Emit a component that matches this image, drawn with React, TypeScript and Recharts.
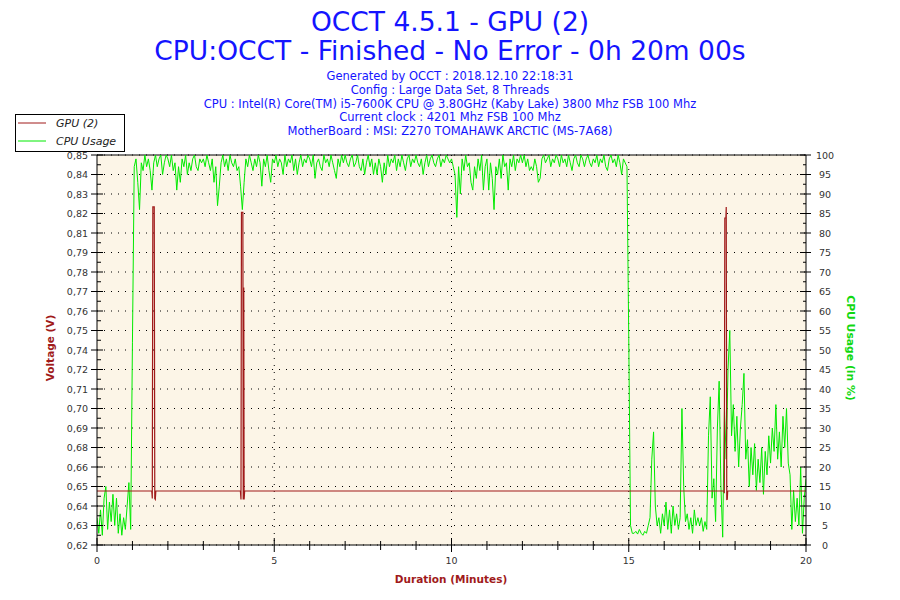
import { CartesianGrid, Line, LineChart, ReferenceLine, XAxis, YAxis } from "recharts";

// CPU usage (%), one sample every 0.05 min, one row per minute
const SAMPLE_STEP_MIN = 0.05;
const CPU_USAGE = [
  7, 3, 9, 2.5, 12, 15, 4, 11, 6, 13, 5, 12, 3, 8, 2.5, 7, 4, 10, 16, 4,
  52, 97, 99, 93, 86, 98, 96, 100, 97, 99, 96, 91, 98, 100, 97, 99, 100, 95, 98, 100,
  99, 97, 100, 96, 98, 91, 97, 93, 99, 97, 100, 95, 98, 96, 99, 100, 97, 96, 99, 98,
  99, 97, 100, 98, 96, 99, 93, 97, 87, 92, 98, 100, 97, 99, 96, 100, 98, 97, 99, 96,
  97, 92, 86, 93, 99, 97, 100, 98, 96, 99, 97, 100, 98, 92, 99, 97, 100, 96, 93, 99,
  98, 100, 97, 99, 98, 95, 100, 97, 99, 98, 100, 96, 99, 95, 98, 100, 97, 99, 98, 100,
  99, 97, 100, 94, 98, 99, 97, 96, 100, 98, 99, 97, 100, 98, 96, 94, 99, 97, 100, 98,
  100, 98, 97, 99, 100, 97, 98, 100, 97, 96, 99, 95, 98, 100, 97, 99, 95, 98, 95, 99,
  97, 93, 98, 95, 100, 97, 99, 98, 100, 96, 99, 97, 100, 98, 96, 99, 100, 97, 99, 98,
  100, 98, 97, 99, 95, 98, 100, 97, 99, 100, 98, 97, 99, 100, 97, 99, 98, 100, 99, 98,
  99, 97, 95, 84, 97, 90, 99, 96, 100, 97, 98, 93, 91, 97, 94, 99, 96, 100, 91, 97,
  99, 91, 98, 94, 86, 97, 95, 99, 94, 100, 97, 98, 91, 99, 97, 100, 96, 99, 98, 100,
  98, 100, 97, 99, 96, 97, 96, 99, 97, 93, 94, 99, 100, 98, 99, 100, 97, 99, 98, 100,
  99, 97, 100, 98, 99, 97, 100, 98, 96, 99, 100, 98, 97, 100, 99, 97, 99, 100, 98, 97,
  99, 98, 100, 97, 99, 98, 100, 97, 96, 99, 100, 98, 99, 97, 100, 98, 95, 99, 98, 97,
  53, 5, 3, 3, 3.5, 2.8, 4, 3, 2.5, 3.5, 3, 5, 7, 22, 29, 10, 5, 7, 3, 8,
  5, 11, 4, 9, 3, 10, 5, 8, 4, 7, 35, 15, 6, 8, 4, 7, 3, 9, 5, 7,
  5, 7, 3.5, 6, 4, 28, 38, 12, 17, 6, 30, 42, 15, 2, 35, 22, 45, 55, 28, 36,
  24, 33, 20, 30, 36, 44, 22, 27, 15, 25, 18, 26, 14, 22, 16, 25, 13, 24, 18, 28,
  21, 30, 24, 36, 22, 29, 20, 33, 25, 35, 21, 18, 4, 14, 6, 12, 5, 20, 3, 12,
  17,
];

// GPU voltage (V): flat line with three short spikes
const VOLT_TIMES = [
  0, 1.545, 1.56, 1.575, 1.615, 1.63, 1.645, 1.66,
  4.045, 4.062, 4.075, 4.115, 4.125, 4.14, 4.15, 4.165,
  17.685, 17.695, 17.71, 17.74, 17.75, 17.765, 17.78, 17.79, 20,
];
const VOLT_VALUES = [
  0.6486, 0.6486, 0.644, 0.8227, 0.8227, 0.644, 0.6435, 0.6486,
  0.6486, 0.6434, 0.8193, 0.8193, 0.6434, 0.7733, 0.6434, 0.6486,
  0.6486, 0.6472, 0.8159, 0.8159, 0.8226, 0.6434, 0.6435, 0.6486, 0.6486,
];

// left axis: 20 even steps, labels as printed
const VOLT_MIN = 0.6155;
const VOLT_STEP = 0.01195;
const VOLT_LABELS = [
  "0,62", "0,63", "0,64", "0,65", "0,66", "0,68", "0,69", "0,70", "0,71", "0,72",
  "0,74", "0,75", "0,76", "0,77", "0,78", "0,79", "0,81", "0,82", "0,83", "0,84", "0,85",
];
const CPU_LABELS = [
  "0", "5", "10", "15", "20", "25", "30", "35", "40", "45", "50",
  "55", "60", "65", "70", "75", "80", "85", "90", "95", "100",
];
const MINUTE_TICKS = [0, 1, 2, 3, 4, 5, 6, 7, 8, 9, 10, 11, 12, 13, 14, 15, 16, 17, 18, 19, 20];
const MINUTE_GRID = [5, 10, 15];

const SUBTITLE_LINES = [
  "Generated by OCCT : 2018.12.10 22:18:31",
  "Config : Large Data Set, 8 Threads",
  "CPU : Intel(R) Core(TM) i5-7600K CPU @ 3.80GHz (Kaby Lake) 3800 Mhz FSB 100 Mhz",
  "Current clock : 4201 Mhz FSB 100 Mhz",
  "MotherBoard : MSI: Z270 TOMAHAWK ARCTIC (MS-7A68)",
];

const RED = "#a01a1a";
const GREEN = "#00ea00";
const TITLE_BLUE = "#1414ff";
const FONT = "'DejaVu Sans', Verdana, sans-serif";

const cpuData = CPU_USAGE.map((v, i) => ({ t: +(i * SAMPLE_STEP_MIN).toFixed(2), cpu: v }));
const voltData = VOLT_TIMES.map((t, i) => ({ t, volt: VOLT_VALUES[i] }));

const voltTicks: number[] = [];
VOLT_LABELS.forEach((_, i) => {
  voltTicks.push(VOLT_MIN + i * VOLT_STEP);
  if (i < VOLT_LABELS.length - 1) voltTicks.push(VOLT_MIN + (i + 0.5) * VOLT_STEP);
});
const voltMax = VOLT_MIN + (VOLT_LABELS.length - 1) * VOLT_STEP;

const cpuTicks: number[] = [];
for (let i = 0; i <= 40; i++) cpuTicks.push(i * 2.5);
const cpuMajor = CPU_LABELS.map((l) => Number(l));

const tickText = { fontSize: 9.5, fontFamily: FONT, fill: "#333" };

function VoltTick({ x, y, payload }: any) {
  const idx = Math.round((payload.value - VOLT_MIN) / (VOLT_STEP / 2));
  const major = idx % 2 === 0;
  return (
    <g>
      <line x1={major ? x - 6 : x} x2={major ? x + 6 : x + 4} y1={y} y2={y} stroke="#000" />
      {major && (
        <text x={x - 9} y={y} textAnchor="end" dominantBaseline="central" {...tickText}>
          {VOLT_LABELS[idx / 2]}
        </text>
      )}
    </g>
  );
}

function CpuTick({ x, y, payload }: any) {
  const idx = Math.round(payload.value / 2.5);
  const major = idx % 2 === 0;
  return (
    <g>
      <line x1={major ? x - 6 : x - 3} x2={major ? x + 5 : x} y1={y} y2={y} stroke="#000" />
      {major && (
        <text x={x + 19} y={y} textAnchor="middle" dominantBaseline="central" {...tickText}>
          {CPU_LABELS[idx / 2]}
        </text>
      )}
    </g>
  );
}

function MinuteTick({ x, y, payload }: any) {
  const major = payload.value % 5 === 0;
  return (
    <g>
      <line x1={x} x2={x} y1={major ? y - 7 : y - 4} y2={major ? y + 7 : y + 5} stroke="#000" />
      {major && (
        <text x={x} y={y + 15} textAnchor="middle" dominantBaseline="central" {...tickText}>
          {payload.value}
        </text>
      )}
    </g>
  );
}

export default function App() {
  return (
    <div style={{ position: "absolute", left: 0, top: 0, width: 900, height: 600, background: "#fff" }}>
      <LineChart width={900} height={600} margin={{ top: 155, right: 34, bottom: 25, left: 37 }}>
        <CartesianGrid
          yAxisId="cpu"
          fill="#fcf5e7"
          stroke="#000"
          strokeDasharray="1 6"
          horizontalValues={cpuMajor}
          verticalValues={MINUTE_GRID}
        />
        <XAxis
          type="number"
          dataKey="t"
          domain={[0, 20]}
          ticks={MINUTE_TICKS}
          interval={0}
          allowDataOverflow
          height={30}
          tickSize={0}
          tickMargin={0}
          tickLine={false}
          axisLine={{ stroke: "#000" }}
          tick={<MinuteTick />}
        />
        <YAxis
          yAxisId="volt"
          type="number"
          domain={[VOLT_MIN, voltMax]}
          ticks={voltTicks}
          interval={0}
          allowDataOverflow
          width={60}
          tickSize={0}
          tickMargin={0}
          tickLine={false}
          axisLine={{ stroke: "#000" }}
          tick={<VoltTick />}
        />
        <YAxis
          yAxisId="cpu"
          orientation="right"
          type="number"
          domain={[0, 100]}
          ticks={cpuTicks}
          interval={0}
          allowDataOverflow
          width={60}
          tickSize={0}
          tickMargin={0}
          tickLine={false}
          axisLine={{ stroke: "#000" }}
          tick={<CpuTick />}
        />
        <ReferenceLine yAxisId="cpu" y={100} stroke="#000" />
        <Line
          yAxisId="cpu"
          data={cpuData}
          dataKey="cpu"
          type="linear"
          stroke={GREEN}
          strokeWidth={1}
          dot={false}
          isAnimationActive={false}
        />
        <Line
          yAxisId="volt"
          data={voltData}
          dataKey="volt"
          type="linear"
          stroke={RED}
          strokeWidth={1.2}
          dot={false}
          isAnimationActive={false}
        />
      </LineChart>

      <svg
        width={900}
        height={600}
        style={{ position: "absolute", left: 0, top: 0, pointerEvents: "none" }}
        fontFamily={FONT}
      >
        <text x={450} y={31} textAnchor="middle" fontSize={26.5} fill={TITLE_BLUE}>
          OCCT 4.5.1 - GPU (2)
        </text>
        <text x={450} y={60} textAnchor="middle" fontSize={26.5} fill={TITLE_BLUE}>
          CPU:OCCT - Finished - No Error - 0h 20m 00s
        </text>
        {SUBTITLE_LINES.map((line, i) => (
          <text key={line} x={450} y={80 + i * 13.8} textAnchor="middle" fontSize={11.5} fill={TITLE_BLUE}>
            {line}
          </text>
        ))}

        <rect x={15.5} y={114.5} width={109} height={37} fill="#fff" stroke="#000" />
        <line x1={18} x2={46} y1={123} y2={123} stroke={RED} />
        <line x1={18} x2={46} y1={141} y2={141} stroke={GREEN} />
        <text x={56} y={127} fontSize={11} fontStyle="italic" fill="#222">
          GPU (2)
        </text>
        <text x={56} y={145} fontSize={11} fontStyle="italic" fill="#222">
          CPU Usage
        </text>

        <text
          x={50}
          y={348}
          transform="rotate(-90 50 348)"
          textAnchor="middle"
          dominantBaseline="central"
          fontSize={10.5}
          fontWeight="bold"
          fill={RED}
        >
          Voltage (V)
        </text>
        <text
          x={850}
          y={348}
          transform="rotate(90 850 348)"
          textAnchor="middle"
          dominantBaseline="central"
          fontSize={10.8}
          fontWeight="bold"
          fill="#10d810"
        >
          CPU Usage (in %)
        </text>
        <text
          x={451}
          y={579}
          textAnchor="middle"
          dominantBaseline="central"
          fontSize={10.5}
          fontWeight="bold"
          fill={RED}
        >
          Duration (Minutes)
        </text>
      </svg>
    </div>
  );
}
